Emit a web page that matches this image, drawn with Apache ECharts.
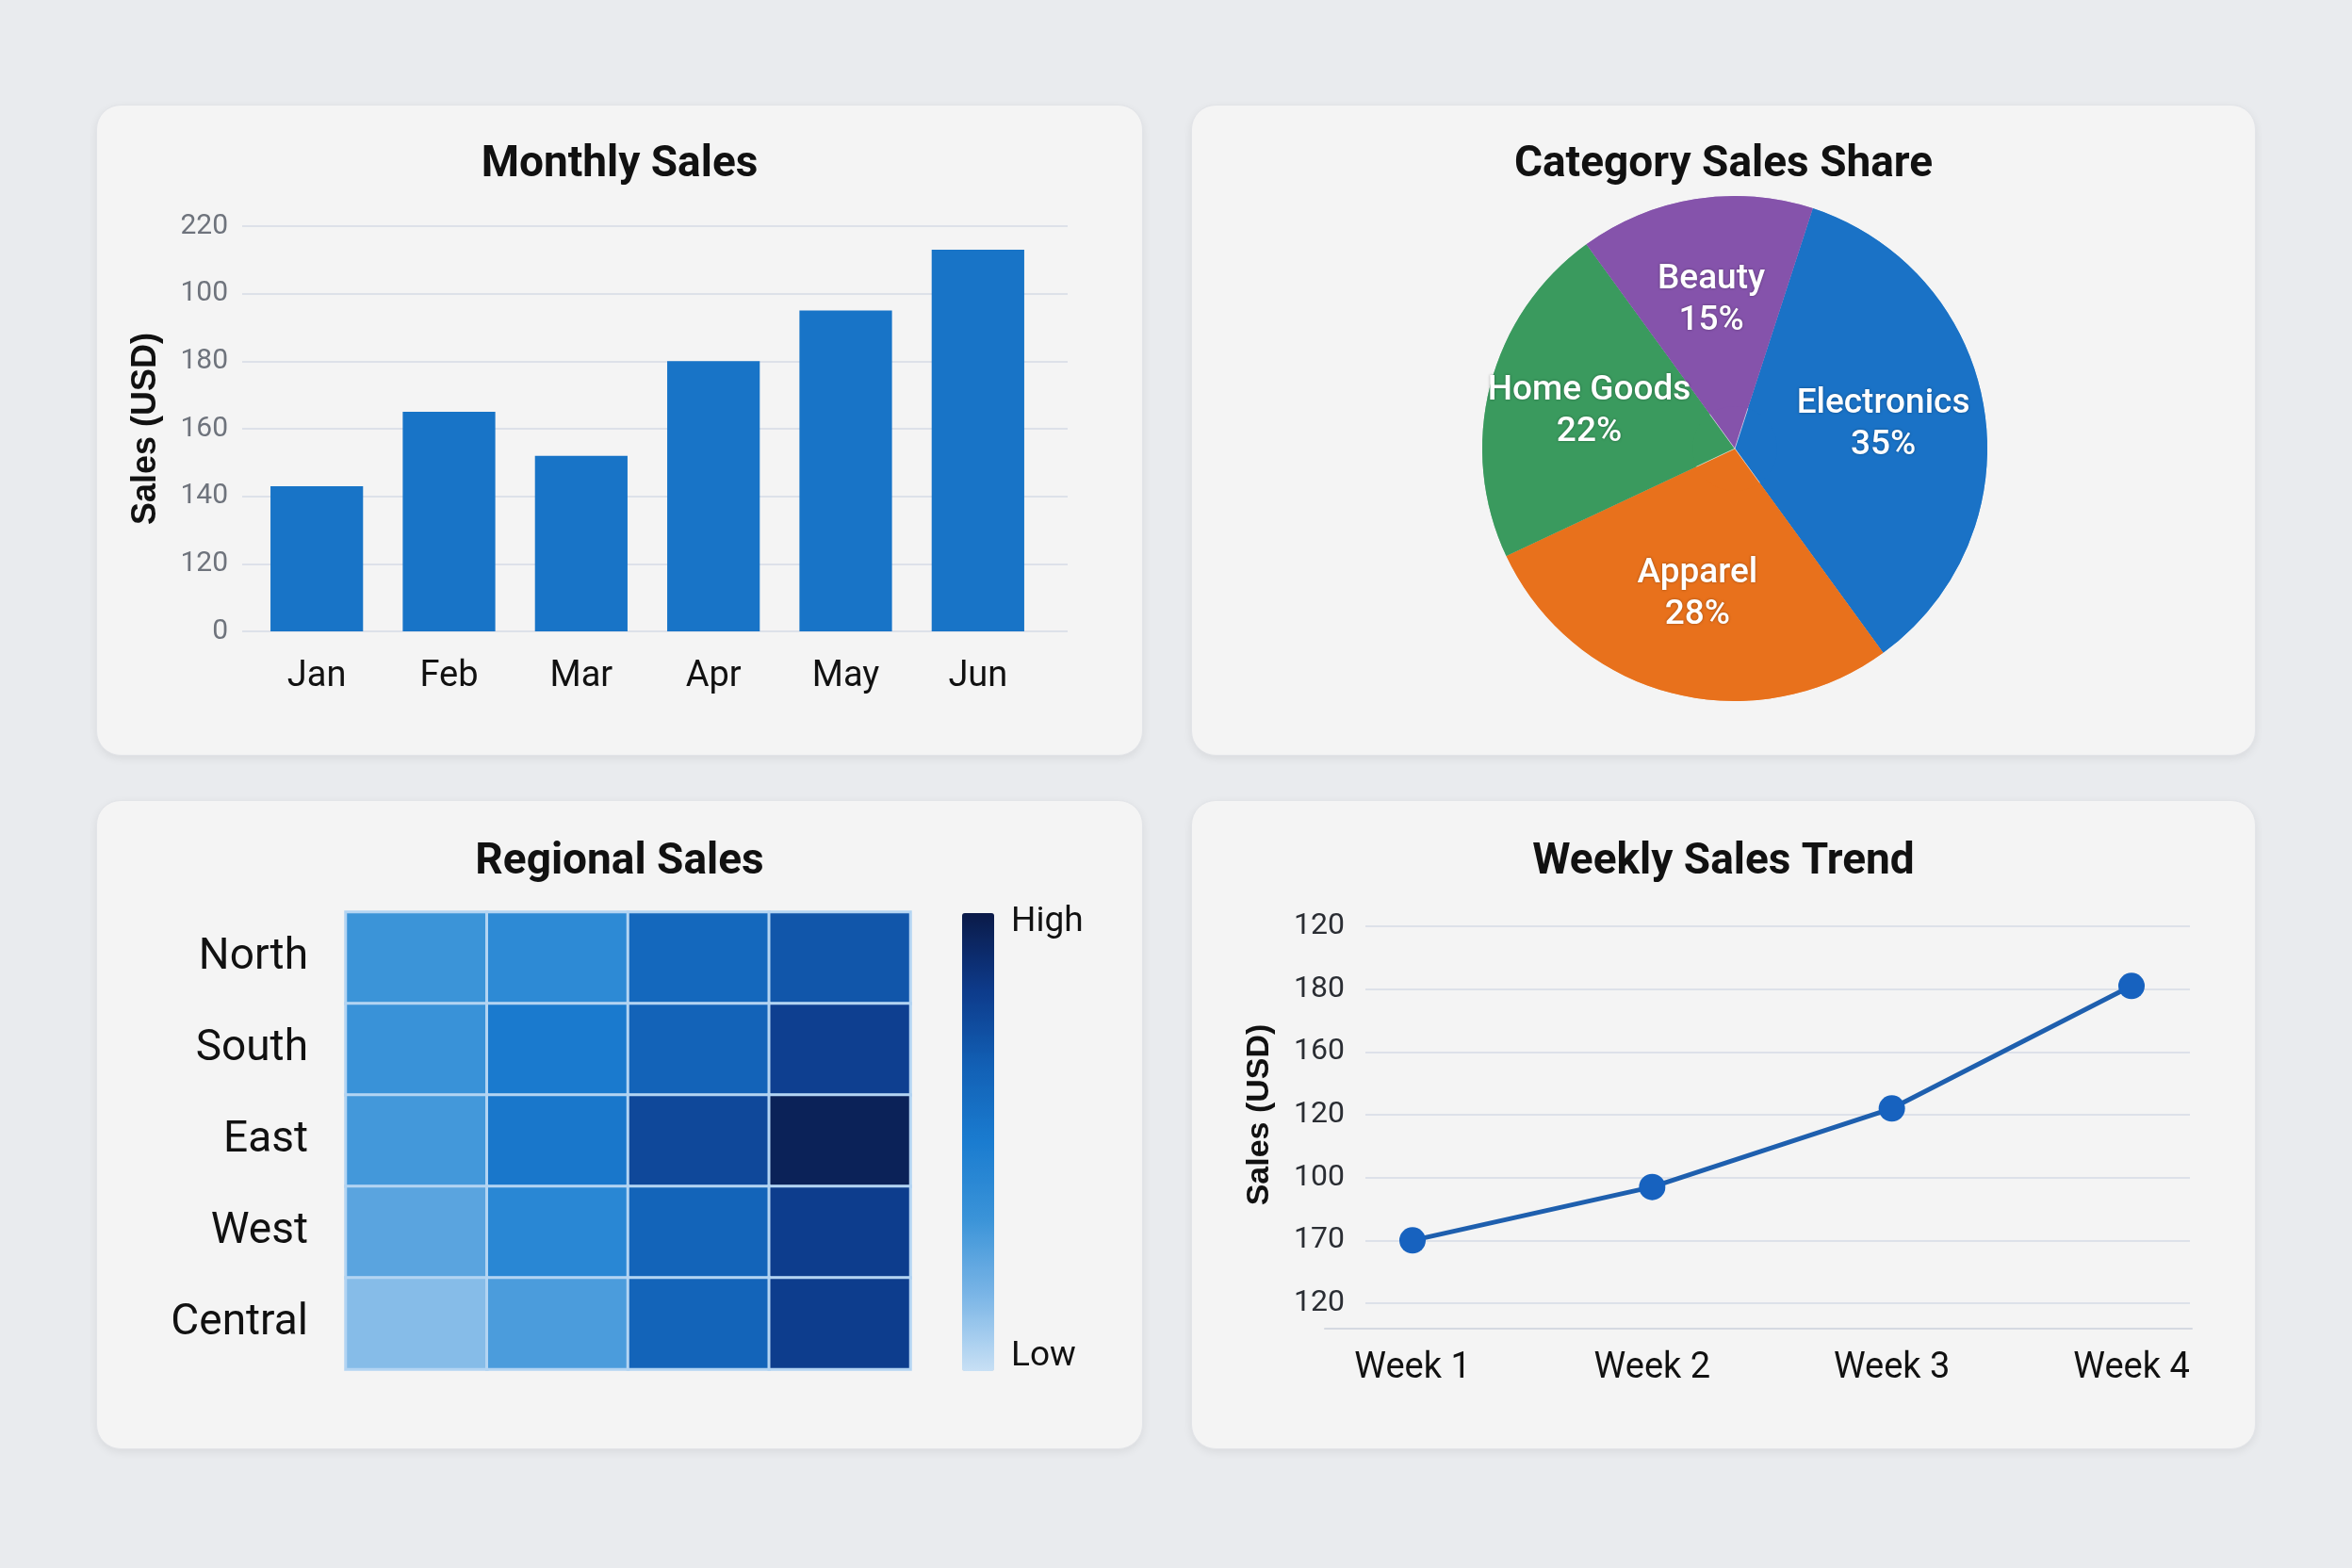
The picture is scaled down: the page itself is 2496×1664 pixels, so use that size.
<!DOCTYPE html>
<html>
<head>
<meta charset="utf-8">
<title>Sales Dashboard</title>
<script src="https://cdn.jsdelivr.net/npm/echarts@6/dist/echarts.min.js"></script>
<style>
	html, body { margin: 0; padding: 0; }
	body { width: 2496px; height: 1664px; background: #e9ebee; position: relative; overflow: hidden; }
	.card {
		position: absolute;
		background: #f4f4f4;
		border-radius: 26px;
		box-shadow: 0 3px 10px rgba(0, 0, 0, 0.07);
		border: 1px solid #e2e4e8;
		box-sizing: border-box;
	}
	#barCard { left: 102px; top: 111px; width: 1111px; height: 691px; }
	#pieCard { left: 1264px; top: 111px; width: 1130px; height: 691px; }
	#heatCard { left: 102px; top: 849px; width: 1111px; height: 689px; }
	#lineCard { left: 1264px; top: 849px; width: 1130px; height: 689px; }
</style>
</head>
<body>
<div class="card" id="barCard"></div>
<div class="card" id="pieCard"></div>
<div class="card" id="heatCard"></div>
<div class="card" id="lineCard"></div>

<script>
// 月度销售
var months = ['Jan', 'Feb', 'Mar', 'Apr', 'May', 'Jun'];
var monthlySales = [143, 165, 152, 180, 195, 213];
var monthTickLabels = ['0', '120', '140', '160', '180', '100', '220']; // as printed, bottom to top

// 品类占比
var categories = ['Electronics', 'Apparel', 'Home Goods', 'Beauty'];
var categoryShare = [35, 28, 22, 15];
var categoryColors = ['#1a72c6', '#e8711c', '#3a9a5e', '#8553ab'];

// 区域热力图
var regions = ['North', 'South', 'East', 'West', 'Central'];
var periods = ['Q1', 'Q2', 'Q3', 'Q4'];
var regionSales = [
	[33, 40, 62, 71],
	[34, 51, 65, 81],
	[31, 53, 77, 96],
	[25, 42, 64, 82],
	[14, 29, 64, 82]
];

// 周趋势
var weeks = ['Week 1', 'Week 2', 'Week 3', 'Week 4'];
var weeklySales = [100, 117, 142, 181];
var weekTickLabels = ['120', '170', '100', '120', '160', '180', '120']; // as printed, bottom to top

var FONT = 'Roboto, "Liberation Sans", sans-serif';
var NAME_FONT = '"Liberation Sans", Arial, sans-serif';
var GRID_COLOR = '#dde1e9';

function titleOpt(text, top) {
	return {
		text: text,
		left: 'center',
		top: top,
		textStyle: { fontFamily: FONT, fontSize: 46, fontWeight: 'bold', color: '#111' }
	};
}

var dashboard = {
	barChart: function() { // Monthly Sales
		var chart = echarts.init(document.getElementById('barCard'));
		var yMin = 100, yMax = 220, yStep = 20;
		chart.setOption({
			animation: false,
			title: titleOpt('Monthly Sales', 35),
			grid: [
				{ left: 154, right: 79, top: 128, bottom: 131 },   // gridlines
				{ left: 163, right: 104, top: 128, bottom: 131 }   // bars
			],
			xAxis: [
				{ gridIndex: 0, type: 'category', data: months, show: false },
				{
					gridIndex: 1, type: 'category', data: months,
					axisLine: { show: false }, axisTick: { show: false },
					axisLabel: { margin: 29, fontFamily: FONT, fontSize: 38, color: '#111' }
				}
			],
			yAxis: [
				{
					gridIndex: 0, type: 'value', min: yMin, max: yMax, interval: yStep,
					name: 'Sales (USD)', nameLocation: 'middle', nameGap: 84,
					nameTextStyle: { fontFamily: NAME_FONT, fontSize: 36, fontWeight: 'bold', color: '#111' },
					axisLine: { show: false }, axisTick: { show: false },
					axisLabel: {
						margin: 15, fontFamily: FONT, fontSize: 30, color: '#6e737c',
						formatter: function(v) { return monthTickLabels[Math.round((v - yMin) / yStep)]; }
					},
					splitLine: { lineStyle: { color: GRID_COLOR, width: 2 } }
				},
				{ gridIndex: 1, type: 'value', min: yMin, max: yMax, interval: yStep, show: false }
			],
			series: [{
				type: 'bar',
				xAxisIndex: 1,
				yAxisIndex: 1,
				data: monthlySales,
				barWidth: '70%',
				itemStyle: { color: '#1874c7' }
			}]
		});
	},
	pieChart: function() { // Category Sales Share
		var chart = echarts.init(document.getElementById('pieCard'));
		var pieData = categories.map(function(c, i) {
			return { name: c, value: categoryShare[i], itemStyle: { color: categoryColors[i] } };
		});
		chart.setOption({
			animation: false,
			title: titleOpt('Category Sales Share', 35),
			series: [{
				type: 'pie',
				center: [576, 364],
				radius: [0, 268],
				startAngle: 72,
				data: pieData,
				label: { show: false },
				labelLine: { show: false },
				itemStyle: { borderColor: 'rgba(255,255,255,0.35)', borderWidth: 1 }
			}, {
				// 只负责标签，位置更靠外
				type: 'pie',
				center: [576, 364],
				radius: [45, 268],
				startAngle: 72,
				silent: true,
				data: pieData,
				itemStyle: { color: 'rgba(0,0,0,0)' },
				labelLine: { show: false },
				label: {
					show: true,
					position: 'inside',
					formatter: '{b}\n{c}%',
					fontFamily: FONT,
					fontSize: 37,
					fontWeight: 500,
					lineHeight: 44,
					color: '#fff',
					textShadowColor: 'rgba(0,0,0,0.35)',
					textShadowBlur: 3
				}
			}]
		});
	},
	heatChart: function() { // Regional Sales
		var chart = echarts.init(document.getElementById('heatCard'));
		var cells = [];
		for (var r = 0; r < regions.length; r++) {
			for (var c = 0; c < periods.length; c++) {
				cells.push([c, r, regionSales[r][c]]);
			}
		}
		chart.setOption({
			animation: false,
			title: titleOpt('Regional Sales', 37),
			grid: { left: 264, right: 246, top: 118, bottom: 84 },
			xAxis: { type: 'category', data: periods, show: false },
			yAxis: {
				type: 'category', data: regions, inverse: true,
				axisLine: { show: false }, axisTick: { show: false }, splitLine: { show: false },
				axisLabel: { margin: 40, fontFamily: FONT, fontSize: 46, color: '#111' }
			},
			visualMap: {
				type: 'continuous',
				min: 0,
				max: 100,
				calculable: false,
				orient: 'vertical',
				left: 918,
				top: 119,
				padding: 0,
				itemWidth: 34,
				itemHeight: 486,
				text: null,
				inRange: { color: ['#c8e0f5', '#7ab5e6', '#3a93d8', '#1a7cd0', '#1260b5', '#0d3a8a', '#0b1a48'] }
			},
			graphic: [
				{ type: 'text', x: 970, y: 129, style: { text: 'High', fontFamily: FONT, fontSize: 37, fill: '#111', verticalAlign: 'middle' } },
				{ type: 'text', x: 970, y: 590, style: { text: 'Low', fontFamily: FONT, fontSize: 37, fill: '#111', verticalAlign: 'middle' } }
			],
			series: [{
				type: 'heatmap',
				data: cells,
				itemStyle: { borderColor: '#b3d4f2', borderWidth: 3 }
			}]
		});
	},
	lineChart: function() { // Weekly Sales Trend
		var chart = echarts.init(document.getElementById('lineCard'));
		var yMin = 80, yMax = 200, yStep = 20;
		chart.setOption({
			animation: false,
			title: titleOpt('Weekly Sales Trend', 37),
			grid: [
				{ left: 184, right: 69, top: 133, bottom: 154 },   // gridlines
				{ left: 234, right: 131, top: 133, bottom: 154 },  // line
				{ left: 141, right: 67, top: 133, bottom: 127 }    // base line
			],
			xAxis: [
				{ gridIndex: 0, type: 'category', data: weeks, show: false },
				{
					gridIndex: 1, type: 'category', data: weeks, boundaryGap: false,
					axisLine: { show: false }, axisTick: { show: false },
					axisLabel: { margin: 50, fontFamily: FONT, fontSize: 38, color: '#111' }
				},
				{
					gridIndex: 2, type: 'category', data: weeks,
					axisLine: { lineStyle: { color: '#d5d9e1', width: 2 } },
					axisTick: { show: false }, axisLabel: { show: false }
				}
			],
			yAxis: [
				{
					gridIndex: 0, type: 'value', min: yMin, max: yMax, interval: yStep,
					name: 'Sales (USD)', nameLocation: 'middle', nameGap: 95,
					nameTextStyle: { fontFamily: NAME_FONT, fontSize: 34, fontWeight: 'bold', color: '#111' },
					axisLine: { show: false }, axisTick: { show: false },
					axisLabel: {
						margin: 22, fontFamily: FONT, fontSize: 32, color: '#2a2d33',
						formatter: function(v) { return weekTickLabels[Math.round((v - yMin) / yStep)]; }
					},
					splitLine: { lineStyle: { color: GRID_COLOR, width: 2 } }
				},
				{ gridIndex: 1, type: 'value', min: yMin, max: yMax, interval: yStep, show: false },
				{ gridIndex: 2, type: 'value', show: false }
			],
			series: [{
				type: 'line',
				xAxisIndex: 1,
				yAxisIndex: 1,
				data: weeklySales,
				symbol: 'circle',
				symbolSize: 28,
				lineStyle: { color: '#1e5fae', width: 5 },
				itemStyle: { color: '#1762bf' }
			}]
		});
	}
};

dashboard.barChart();
dashboard.pieChart();
dashboard.heatChart();
dashboard.lineChart();
</script>
</body>
</html>
